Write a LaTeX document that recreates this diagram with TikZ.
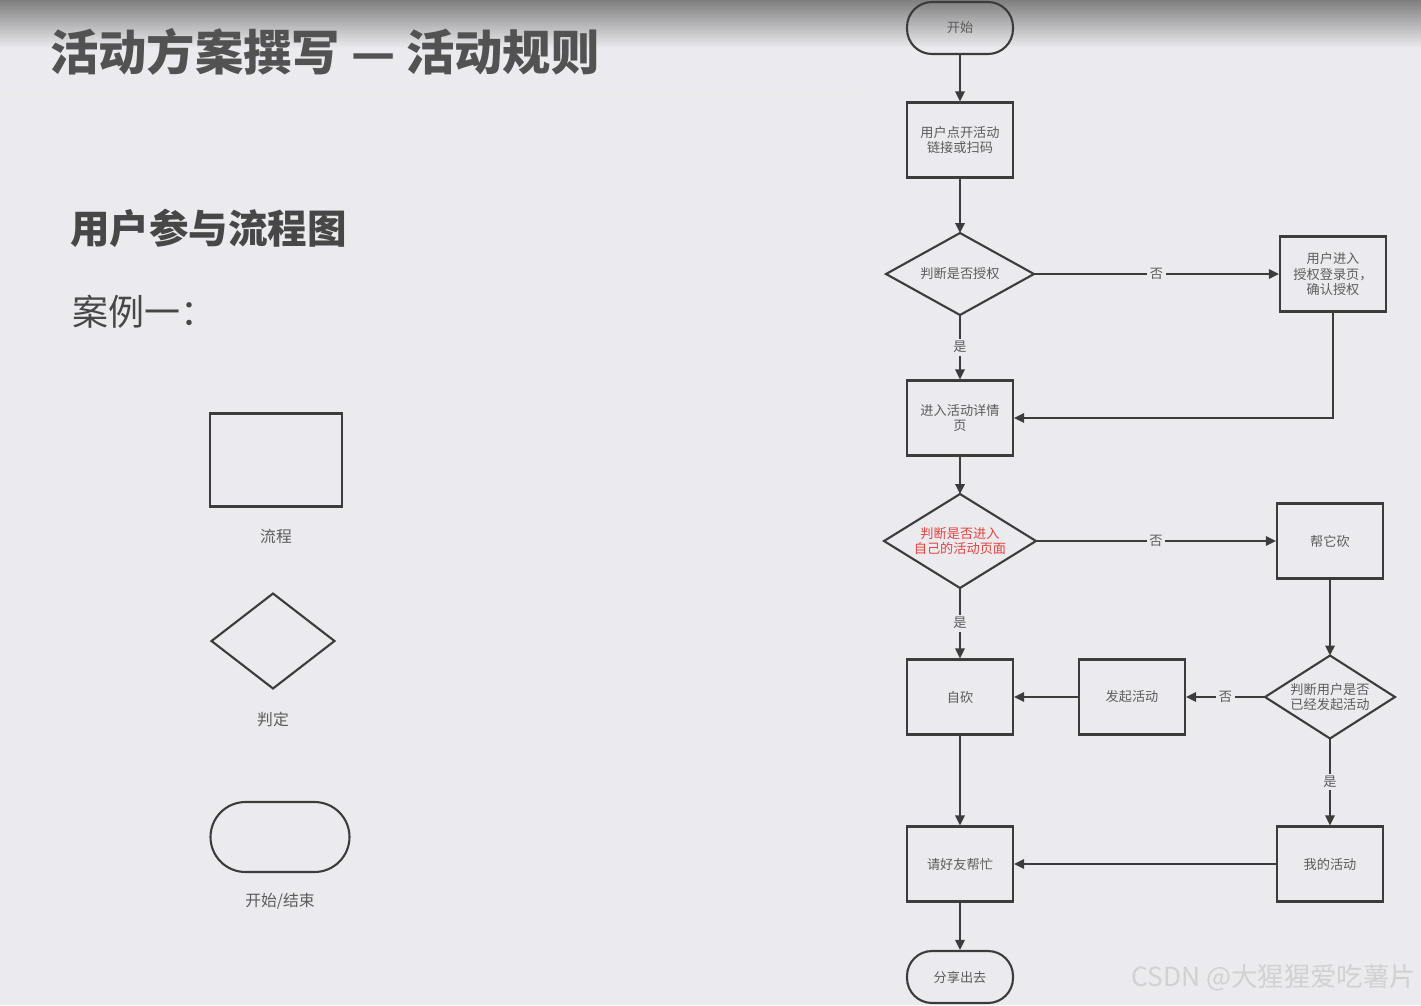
\documentclass[tikz,border=0pt]{standalone}
\usepackage{fontspec}
\setmainfont{Noto Sans CJK SC}
\usetikzlibrary{shapes.geometric, arrows.meta}
\definecolor{slide-bg}{HTML}{EBEAEE}
\definecolor{ink}{HTML}{3C3C3C}
\definecolor{txt}{HTML}{5C5C5C}
\definecolor{hot}{HTML}{E5453F}

\begin{document}
\begin{tikzpicture}[x=0.02cm, y=-0.02cm,
    every node/.style={font=\fontsize{7.5}{9}\selectfont, text=txt, inner sep=1pt},
    proc/.style={draw=ink, line width=1.2pt, minimum width=2.12cm, minimum height=1.5cm, align=center},
    cond/.style={diamond, draw=ink, line width=1.2pt, inner sep=0pt, outer sep=0pt, align=center},
    term/.style={draw=ink, line width=1.2pt, rounded corners=0.5cm, minimum width=2.12cm, minimum height=1.04cm},
    flow/.style={draw=ink, line width=1pt, -{Triangle[length=0.2cm, width=0.19cm]}},
    tag/.style={fill=slide-bg, inner sep=1.5pt}]
    % slide background
    \fill[slide-bg] (0, 0) rectangle (1421, 1005);
    \useasboundingbox (0, 0) rectangle (1421, 1005);
    \shade[top color=black!50, bottom color=slide-bg] (0, 0) rectangle (1421, 48);
    \draw[black!8, line width=0.6pt] (0, 95) -- (860, 95);

    % headings
    \node[anchor=west, font=\fontsize{27.5}{30}\selectfont\bfseries, text=black!68] (title) at (48, 52) {活动方案撰写 — 活动规则};
    \node[anchor=west, font=\fontsize{22.5}{26}\selectfont\bfseries, text=black!72] (sub) at (68, 228) {用户参与流程图};
    \node[anchor=west, font=\fontsize{20.5}{24}\selectfont, text=black!72] (case) at (70, 312) {案例一：};

    % legend
    \node[draw=ink, line width=1.2pt, minimum width=2.64cm, minimum height=1.86cm] (lgproc) at (276, 460) {};
    \node[font=\fontsize{9}{11}\selectfont] (lgproctxt) at (276, 536) {流程};
    \node[cond, minimum width=2.46cm, minimum height=1.9cm] (lgcond) at (273, 641) {};
    \node[font=\fontsize{9}{11}\selectfont] (lgcondtxt) at (273, 719) {判定};
    \node[term, rounded corners=0.7cm, minimum width=2.78cm, minimum height=1.4cm] (lgterm) at (280, 837) {};
    \node[font=\fontsize{9}{11}\selectfont] (lgtermtxt) at (280, 901) {开始/结束};

    % flow chart
    \node[term] (start) at (960, 28) {开始};
    \node[proc] (n1) at (960, 140) {用户点开活动\\链接或扫码};
    \node[cond, aspect=1.8, minimum width=2.96cm, minimum height=1.64cm] (d1) at (960, 274) {判断是否授权};
    \node[proc] (auth) at (1333, 274) {用户进入\\授权登录页，\\确认授权};
    \node[proc] (n2) at (960, 418) {进入活动详情\\页};
    \node[cond, aspect=1.62, minimum width=3.04cm, minimum height=1.88cm, text=hot] (d2) at (960, 541) {判断是否进入\\自己的活动页面};
    \node[proc] (cut) at (1330, 541) {帮它砍};
    \node[cond, aspect=1.57, minimum width=2.6cm, minimum height=1.66cm] (d3) at (1330, 697) {判断用户是否\\已经发起活动};
    \node[proc] (self) at (960, 697) {自砍};
    \node[proc] (launch) at (1132, 697) {发起活动};
    \node[proc] (mine) at (1330, 864) {我的活动};
    \node[proc] (invite) at (960, 864) {请好友帮忙};
    \node[term] (share) at (960, 977) {分享出去};

    \draw[flow] (start) -- (n1);
    \draw[flow] (n1) -- (d1);
    \draw[flow] (d1) -- node[tag] {否} (auth);
    \draw[flow] (d1) -- node[tag] {是} (n2);
    \draw[flow] (auth) |- (n2);
    \draw[flow] (n2) -- (d2);
    \draw[flow] (d2) -- node[tag] {否} (cut);
    \draw[flow] (d2) -- node[tag] {是} (self);
    \draw[flow] (cut) -- (d3);
    \draw[flow] (d3) -- node[tag] {否} (launch);
    \draw[flow] (launch) -- (self);
    \draw[flow] (d3) -- node[tag] {是} (mine);
    \draw[flow] (self) -- (invite);
    \draw[flow] (mine) -- (invite);
    \draw[flow] (invite) -- (share);

    % watermark
    \node[anchor=east, font=\fontsize{15}{18}\selectfont, text=white!82!black] (mark) at (1418, 978) {CSDN @大猩猩爱吃薯片};
\end{tikzpicture}
\end{document}
